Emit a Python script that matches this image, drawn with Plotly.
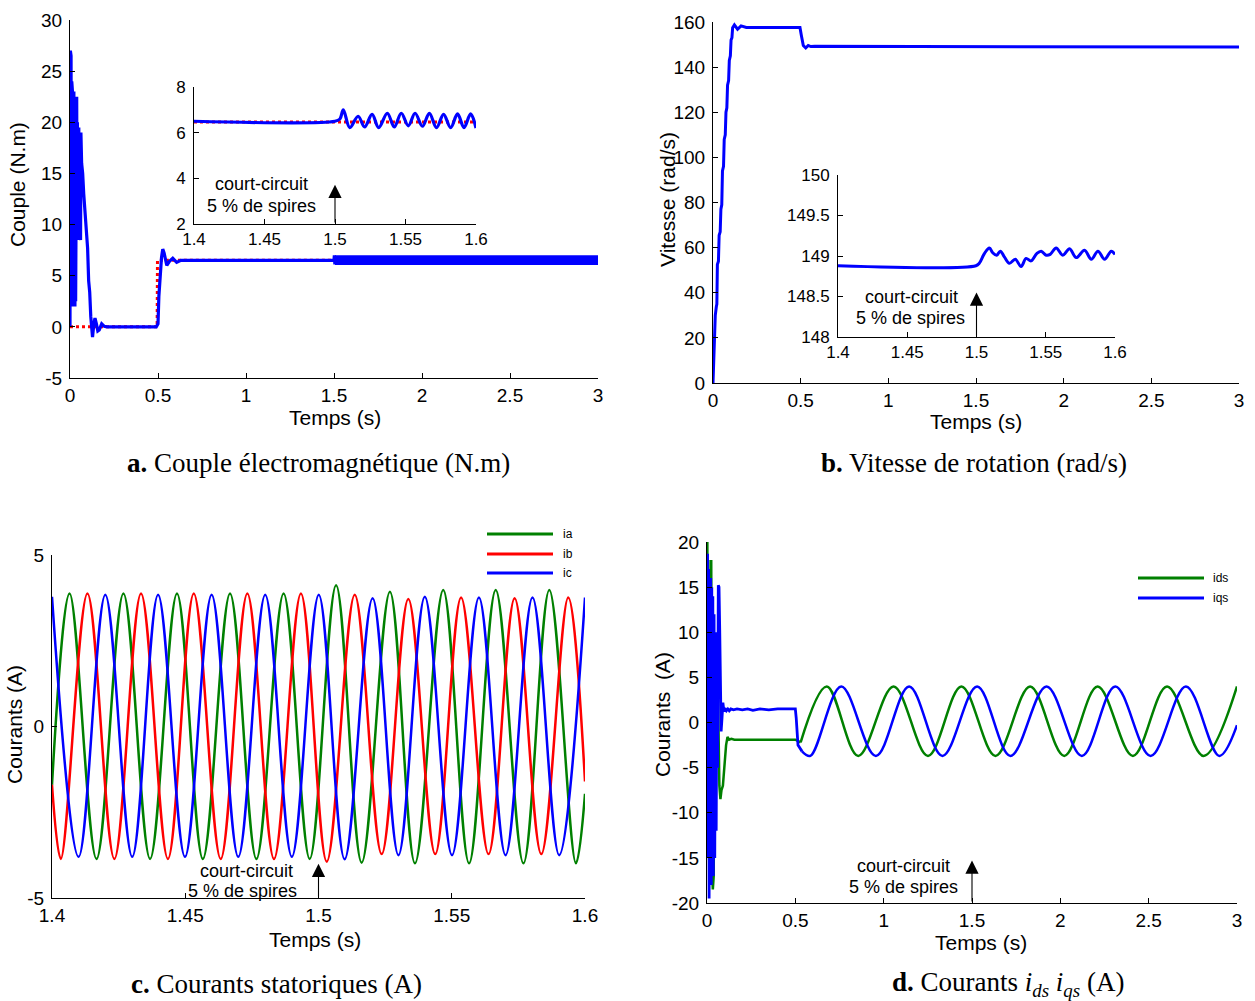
import plotly.graph_objects as go

W, H = 1255, 1001
BLUE, RED, GREEN = "#0000FF", "#FF0000", "#008000"
SANS = "Liberation Sans, Arial, sans-serif"
SERIF = "Liberation Serif, Times New Roman, serif"

# ---------------- a. electromagnetic torque ----------------
torque_t = [0, 0.002, 0.004, 0.006, 0.008, 0.010, 0.012, 0.014, 0.016, 0.018,
            0.020, 0.022, 0.024, 0.026, 0.028, 0.030, 0.032, 0.034, 0.036, 0.038,
            0.040, 0.042, 0.044, 0.046, 0.048, 0.050, 0.052, 0.054, 0.056, 0.058,
            0.060, 0.062, 0.066, 0.072, 0.078, 0.085, 0.093, 0.100, 0.106, 0.112,
            0.118, 0.124, 0.128, 0.135, 0.142, 0.150, 0.158, 0.166, 0.180, 0.195,
            0.210, 0.490, 0.500, 0.505, 0.512, 0.520, 0.527, 0.535, 0.550, 0.565,
            0.584, 0.606, 0.630, 1.500, 1.502, 1.505]
torque_v = [0, 27, 1.8, 26.5, 2, 24, 2.2, 23, 2, 22.5,
            2.5, 23, 3, 22, 2, 21.5, 2.5, 21, 8.5, 22.5,
            9, 20, 8.5, 19.5, 9, 19.5, 8.5, 19, 9, 19,
            8.5, 19, 16, 15, 13, 11.3, 8.5, 7.7, 4.5, 3.4,
            1, -0.8, -1, 0.2, 0.85, 0.3, -0.4, -0.3, 0.3, 0.05,
            0, 0, 0.3, 3, 5, 6.8, 7.6, 7.2, 6.0, 6.4,
            6.7, 6.3, 6.5, 6.5, 7.0, 6.1]
torque_ref_t = [0, 0.495, 0.497, 3.0]
torque_ref_v = [0, 0, 6.5, 6.5]
# ripple envelope after the fault (1.5 s .. 3 s)
ripple_t = [1.505, 3.0]
ripple_hi = [6.85, 6.85]
ripple_lo = [6.2, 6.2]

# zoom 1.4 .. 1.6 s
torque_zoom_t = [1.4, 1.5, 1.5035, 1.5059, 1.5105, 1.5164, 1.521, 1.5263, 1.531,
                 1.5371, 1.542, 1.547, 1.552, 1.5568, 1.562, 1.5669, 1.572,
                 1.577, 1.582, 1.5869, 1.5915, 1.5962, 1.6]
torque_zoom_v = [6.5, 6.5, 6.6, 7.0, 6.22, 6.72, 6.25, 6.8, 6.22,
                 6.85, 6.25, 6.85, 6.3, 6.85, 6.28, 6.85, 6.22,
                 6.8, 6.22, 6.82, 6.22, 6.82, 6.2]
torque_zoom_ref_t = [1.4, 1.6]
torque_zoom_ref_v = [6.47, 6.47]

# ---------------- b. rotor speed ----------------
speed_t = [0, 0.004, 0.006, 0.010, 0.013, 0.019, 0.022, 0.025, 0.031, 0.035,
           0.041, 0.045, 0.050, 0.054, 0.060, 0.064, 0.070, 0.074, 0.079, 0.083,
           0.089, 0.093, 0.099, 0.103, 0.108, 0.112, 0.122, 0.140, 0.160, 0.190,
           0.496, 0.504, 0.515, 0.529, 0.543, 0.558, 0.580, 3.0]
speed_v = [0, 10.8, 11.5, 28.8, 30, 33.8, 35, 52.5, 54, 65.5,
           67, 77, 79, 94, 96, 108, 110, 120, 122, 132,
           134, 143, 145, 152, 153, 157.5, 158.7, 156.8, 158.3, 157.6,
           157.6, 154, 149.6, 148.5, 149.6, 149.1, 149.2, 148.9]

speed_zoom_t = [1.4, 1.4996, 1.502, 1.5057, 1.5093, 1.5117, 1.5146, 1.5172, 1.5201,
                1.5238, 1.528, 1.5322, 1.5358, 1.5394, 1.5435, 1.5467, 1.5503,
                1.5532, 1.5575, 1.5623, 1.5672, 1.572, 1.578, 1.5829, 1.5877,
                1.5925, 1.5973, 1.6]
speed_zoom_v = [148.88, 148.88, 148.91, 149.03, 149.1, 149.04, 149.01, 149.06, 148.99,
                148.91, 148.96, 148.87, 148.97, 148.94, 149.03, 149.06, 149.01,
                149.02, 149.1, 149.01, 149.09, 148.98, 149.07, 148.96, 149.06,
                148.96, 149.06, 149.02]

# ---------------- c. stator phase currents (extrema) ----------------
ia_t = [1.4, 1.4066, 1.4167, 1.4268, 1.4368, 1.4469, 1.4566, 1.4668, 1.4767, 1.4869,
        1.4967, 1.5066, 1.5162, 1.5268, 1.5362, 1.5468, 1.5565, 1.5665, 1.5769,
        1.5866, 1.5966, 1.6]
ia_v = [-1.7, 3.88, -3.86, 3.88, -3.86, 3.88, -3.86, 3.88, -3.86, 3.88,
        -3.86, 4.12, -3.97, 3.93, -3.99, 3.98, -3.99, 3.98, -3.99,
        3.98, -3.99, -1.96]
ib_t = [1.4, 1.4033, 1.4133, 1.4234, 1.4334, 1.4435, 1.4532, 1.4633, 1.4733, 1.4833,
        1.4934, 1.5031, 1.5136, 1.5237, 1.5337, 1.5438, 1.5535, 1.5638, 1.5736,
        1.5836, 1.5937, 1.6]
ib_v = [-1.7, -3.86, 3.88, -3.86, 3.88, -3.86, 3.88, -3.86, 3.88, -3.86,
        3.88, -3.94, 3.84, -3.72, 3.72, -3.72, 3.76, -3.72, 3.74,
        -3.72, 3.76, -1.6]
ic_t = [1.4, 1.41, 1.42, 1.4301, 1.4398, 1.4499, 1.4599, 1.4699, 1.48, 1.49,
        1.5001, 1.5098, 1.5203, 1.53, 1.5399, 1.5501, 1.5602, 1.5702, 1.5803,
        1.5903, 1.6]
ic_v = [3.78, -3.8, 3.84, -3.8, 3.84, -3.8, 3.84, -3.8, 3.84, -3.8,
        3.84, -3.87, 3.74, -3.75, 3.78, -3.75, 3.76, -3.75, 3.76,
        -3.75, 3.76]

# ---------------- d. d-q currents ----------------
ids_start_t = [0, 0.002, 0.005, 0.008, 0.012, 0.016, 0.020, 0.024, 0.028, 0.033,
               0.038, 0.044, 0.050, 0.056, 0.062, 0.066, 0.070, 0.076, 0.082, 0.090,
               0.100, 0.108, 0.116, 0.125, 0.138, 0.155, 0.500, 0.530]
ids_start_v = [-14, 20, -6, 18, -15, 17, -17, 18, -16, -18.5,
               -17, 8, 3, 5, 3.5, -3, -7, -8.5, -7.5, -7,
               -4, -2.5, -1.6, -1.9, -1.8, -1.9, -1.9, -2.2]
ids_osc_t = [0.530, 0.678, 0.856, 1.056, 1.251, 1.440, 1.633, 1.829, 2.022, 2.211,
             2.411, 2.604, 2.811, 3.0]
ids_osc_v = [-2.2, 4.0, -3.7, 4.0, -3.7, 4.0, -3.7, 4.0, -3.7, 4.0,
             -3.7, 4.0, -3.7, 4.0]

iqs_start_t = [0, 0.003, 0.006, 0.009, 0.012, 0.015, 0.018, 0.021, 0.024, 0.027,
               0.030, 0.033, 0.036, 0.040, 0.044, 0.048, 0.052, 0.056, 0.060, 0.064,
               0.068, 0.072, 0.076, 0.080, 0.085, 0.090, 0.096, 0.102, 0.110, 0.118,
               0.126, 0.135, 0.150, 0.170, 0.200, 0.230, 0.260, 0.300, 0.350, 0.400,
               0.450, 0.500, 0.505, 0.515, 0.538]
iqs_start_v = [0, 18.7, -15, 17, -19.5, 16, -18, 16, -18, 15,
               -16, 14, -17, 12, -15, 10, -12, 6, -5, 15.2,
               15, 10.3, 3.4, -1, 0.5, 2.2, 1.2, 1.6, 1.3, 1.5,
               1.3, 1.5, 1.4, 1.5, 1.4, 1.5, 1.35, 1.5, 1.4, 1.5,
               1.5, 1.5, 0.5, -2.5, -3.2]
iqs_osc_t = [0.538, 0.585, 0.760, 0.956, 1.144, 1.333, 1.529, 1.718, 1.922, 2.122,
             2.311, 2.511, 2.711, 2.900, 3.0]
iqs_osc_v = [-3.2, -3.7, 4.0, -3.7, 4.0, -3.7, 4.0, -3.7, 4.0, -3.7,
             4.0, -3.7, 4.0, -3.7, -0.3]

# ---------------- tick labels ----------------
t_ticks = [0, 0.5, 1, 1.5, 2, 2.5, 3]
t_labels = ["0", "0.5", "1", "1.5", "2", "2.5", "3"]
zoom_ticks = [1.4, 1.45, 1.5, 1.55, 1.6]
zoom_labels = ["1.4", "1.45", "1.5", "1.55", "1.6"]
torque_ticks = [-5, 0, 5, 10, 15, 20, 25, 30]
torque_zoom_ticks = [2, 4, 6, 8]
speed_ticks = [0, 20, 40, 60, 80, 100, 120, 140, 160]
speed_zoom_ticks = [148, 148.5, 149, 149.5, 150]
speed_zoom_labels = ["148", "148.5", "149", "149.5", "150"]
iabc_ticks = [-5, 0, 5]
idq_ticks = [-20, -15, -10, -5, 0, 5, 10, 15, 20]


def px(x):
    return x / W


def py(y):
    return 1 - y / H


def axis(x0, x1, rng, ticks, labels=None, size=19, standoff=0, **kw):
    d = dict(domain=[x0, x1], range=rng, tickvals=ticks,
             ticktext=labels if labels else [str(v) for v in ticks],
             showline=True, linecolor="black", linewidth=1, mirror=False,
             ticks="inside", ticklen=5, tickcolor="black", tickwidth=1,
             showgrid=False, zeroline=False, fixedrange=True, automargin=False,
             ticklabelstandoff=standoff,
             tickfont=dict(family=SANS, size=size, color="black"))
    d.update(kw)
    return d


fig = go.Figure()

# a. main
fig.add_trace(go.Scatter(x=torque_ref_t, y=torque_ref_v, mode="lines",
                         line=dict(color=RED, width=3, dash="dot"), xaxis="x", yaxis="y"))
fig.add_trace(go.Scatter(x=torque_t, y=torque_v, mode="lines",
                         line=dict(color=BLUE, width=3.2), xaxis="x", yaxis="y"))
fig.add_trace(go.Scatter(x=ripple_t + ripple_t[::-1], y=ripple_hi + ripple_lo[::-1],
                         mode="lines", fill="toself", fillcolor=BLUE,
                         line=dict(color=BLUE, width=3), xaxis="x", yaxis="y"))
# a. zoom
fig.add_trace(go.Scatter(x=torque_zoom_ref_t, y=torque_zoom_ref_v, mode="lines",
                         line=dict(color=RED, width=3, dash="dot"), xaxis="x2", yaxis="y2"))
fig.add_trace(go.Scatter(x=torque_zoom_t, y=torque_zoom_v, mode="lines",
                         line=dict(color=BLUE, width=3.2, shape="spline"),
                         xaxis="x2", yaxis="y2"))

# b. main + zoom
fig.add_trace(go.Scatter(x=speed_t, y=speed_v, mode="lines",
                         line=dict(color=BLUE, width=3), xaxis="x3", yaxis="y3"))
fig.add_trace(go.Scatter(x=speed_zoom_t, y=speed_zoom_v, mode="lines",
                         line=dict(color=BLUE, width=3, shape="spline"),
                         xaxis="x4", yaxis="y4"))

# c. phase currents
for tt, vv, col in [(ia_t, ia_v, GREEN), (ib_t, ib_v, RED), (ic_t, ic_v, BLUE)]:
    fig.add_trace(go.Scatter(x=tt, y=vv, mode="lines",
                             line=dict(color=col, width=2.5, shape="spline"),
                             xaxis="x5", yaxis="y5"))

# d. d-q currents
fig.add_trace(go.Scatter(x=ids_start_t, y=ids_start_v, mode="lines",
                         line=dict(color=GREEN, width=2.5), xaxis="x6", yaxis="y6"))
fig.add_trace(go.Scatter(x=ids_osc_t, y=ids_osc_v, mode="lines",
                         line=dict(color=GREEN, width=2.5, shape="spline"),
                         xaxis="x6", yaxis="y6"))
fig.add_trace(go.Scatter(x=iqs_start_t, y=iqs_start_v, mode="lines",
                         line=dict(color=BLUE, width=2.8), xaxis="x6", yaxis="y6"))
fig.add_trace(go.Scatter(x=iqs_osc_t, y=iqs_osc_v, mode="lines",
                         line=dict(color=BLUE, width=2.5, shape="spline"),
                         xaxis="x6", yaxis="y6"))

layout = dict(
    width=W, height=H, margin=dict(l=0, r=0, t=0, b=0, autoexpand=False),
    paper_bgcolor="white", plot_bgcolor="rgba(0,0,0,0)", showlegend=False,
    xaxis=axis(px(70), px(598), [0, 3], t_ticks, t_labels, anchor="y"),
    yaxis=axis(py(378), py(20), [-5, 30], torque_ticks, standoff=3, anchor="x"),
    xaxis2=axis(px(194), px(476), [1.4, 1.6], zoom_ticks, zoom_labels, size=17, anchor="y2"),
    yaxis2=axis(py(224), py(87), [2, 8], torque_zoom_ticks, size=17, standoff=4, anchor="x2"),
    xaxis3=axis(px(713), px(1239), [0, 3], t_ticks, t_labels, anchor="y3"),
    yaxis3=axis(py(383), py(22), [0, 160], speed_ticks, standoff=3, anchor="x3"),
    xaxis4=axis(px(838), px(1115), [1.4, 1.6], zoom_ticks, zoom_labels, size=17, anchor="y4"),
    yaxis4=axis(py(337), py(175), [148, 150], speed_zoom_ticks, speed_zoom_labels,
                size=17, standoff=4, anchor="x4"),
    xaxis5=axis(px(52), px(585), [1.4, 1.6], zoom_ticks, zoom_labels, anchor="y5"),
    yaxis5=axis(py(898), py(555), [-5, 5], iabc_ticks, standoff=3, anchor="x5"),
    xaxis6=axis(px(707), px(1237), [0, 3], t_ticks, t_labels, anchor="y6"),
    yaxis6=axis(py(903), py(542), [-20, 20], idq_ticks, standoff=3, anchor="x6"),
)
fig.update_layout(**layout)

ann = []


def text_px(x, y, s, size, family=SANS, angle=0, xanchor="center"):
    ann.append(dict(x=px(x), y=py(y), xref="paper", yref="paper", text=s, showarrow=False,
                    xanchor=xanchor, yanchor="middle", textangle=angle,
                    font=dict(family=family, size=size, color="black")))


# axis titles
text_px(335, 417, "Temps (s)", 21)
text_px(18, 185, "Couple (N.m)", 21, angle=-90)
text_px(976, 422, "Temps (s)", 21)
text_px(667, 200, "Vitesse (rad/s)", 21, angle=-90)
text_px(315, 939, "Temps (s)", 21)
text_px(14, 725, "Courants (A)", 21, angle=-90)
text_px(981, 942, "Temps (s)", 21)
text_px(662, 715, "Courants\u00a0 (A)", 21, angle=-90)

# captions
text_px(319, 463, "<b>a.</b> Couple électromagnétique (N.m)", 27, SERIF)
text_px(974, 463, "<b>b.</b> Vitesse de rotation (rad/s)", 27, SERIF)
text_px(276, 984, "<b>c.</b> Courants statoriques (A)", 27, SERIF)
text_px(1008, 984, "<b>d.</b> Courants <i>i<sub>ds</sub></i> <i>i<sub>qs</sub></i> (A)", 27, SERIF)

# fault markers: arrow + label in each panel
faults = [
    ("x2", "y2", 2, 3.72, 1.448, 3.75, 1.448, 2.79),
    ("x4", "y4", 148, 148.55, 1.4534, 148.49, 1.4527, 148.23),
    ("x5", "y5", -5, -4.0, 1.4728, -4.2, 1.4713, -4.81),
    ("x6", "y6", -20, -15.3, 1.115, -15.9, 1.11, -18.2),
]
for xr, yr, tail, head, tx1, ty1, tx2, ty2 in faults:
    ann.append(dict(x=1.5, y=head, ax=1.5, ay=tail, xref=xr, yref=yr, axref=xr, ayref=yr,
                    text="", showarrow=True, arrowhead=2, arrowsize=2.4, arrowwidth=1.1,
                    arrowcolor="black", standoff=0, startstandoff=0))
    ann.append(dict(x=tx1, y=ty1, xref=xr, yref=yr, text="court-circuit", showarrow=False,
                    xanchor="center", yanchor="middle",
                    font=dict(family=SANS, size=18, color="black")))
    ann.append(dict(x=tx2, y=ty2, xref=xr, yref=yr, text="5 % de spires", showarrow=False,
                    xanchor="center", yanchor="middle",
                    font=dict(family=SANS, size=18, color="black")))

# legends
shapes = []
legend_c = [("ia", GREEN, 534), ("ib", RED, 554), ("ic", BLUE, 573)]
legend_d = [("ids", GREEN, 578), ("iqs", BLUE, 598)]
for name, col, y in legend_c:
    shapes.append(dict(type="line", xref="paper", yref="paper", x0=px(487), x1=px(553),
                       y0=py(y), y1=py(y), line=dict(color=col, width=3)))
    text_px(561, y, name, 12, xanchor="left")
for name, col, y in legend_d:
    shapes.append(dict(type="line", xref="paper", yref="paper", x0=px(1138), x1=px(1204),
                       y0=py(y), y1=py(y), line=dict(color=col, width=3)))
    text_px(1211, y, name, 12, xanchor="left")

fig.update_layout(annotations=ann, shapes=shapes)
fig.write_html("out.html")
